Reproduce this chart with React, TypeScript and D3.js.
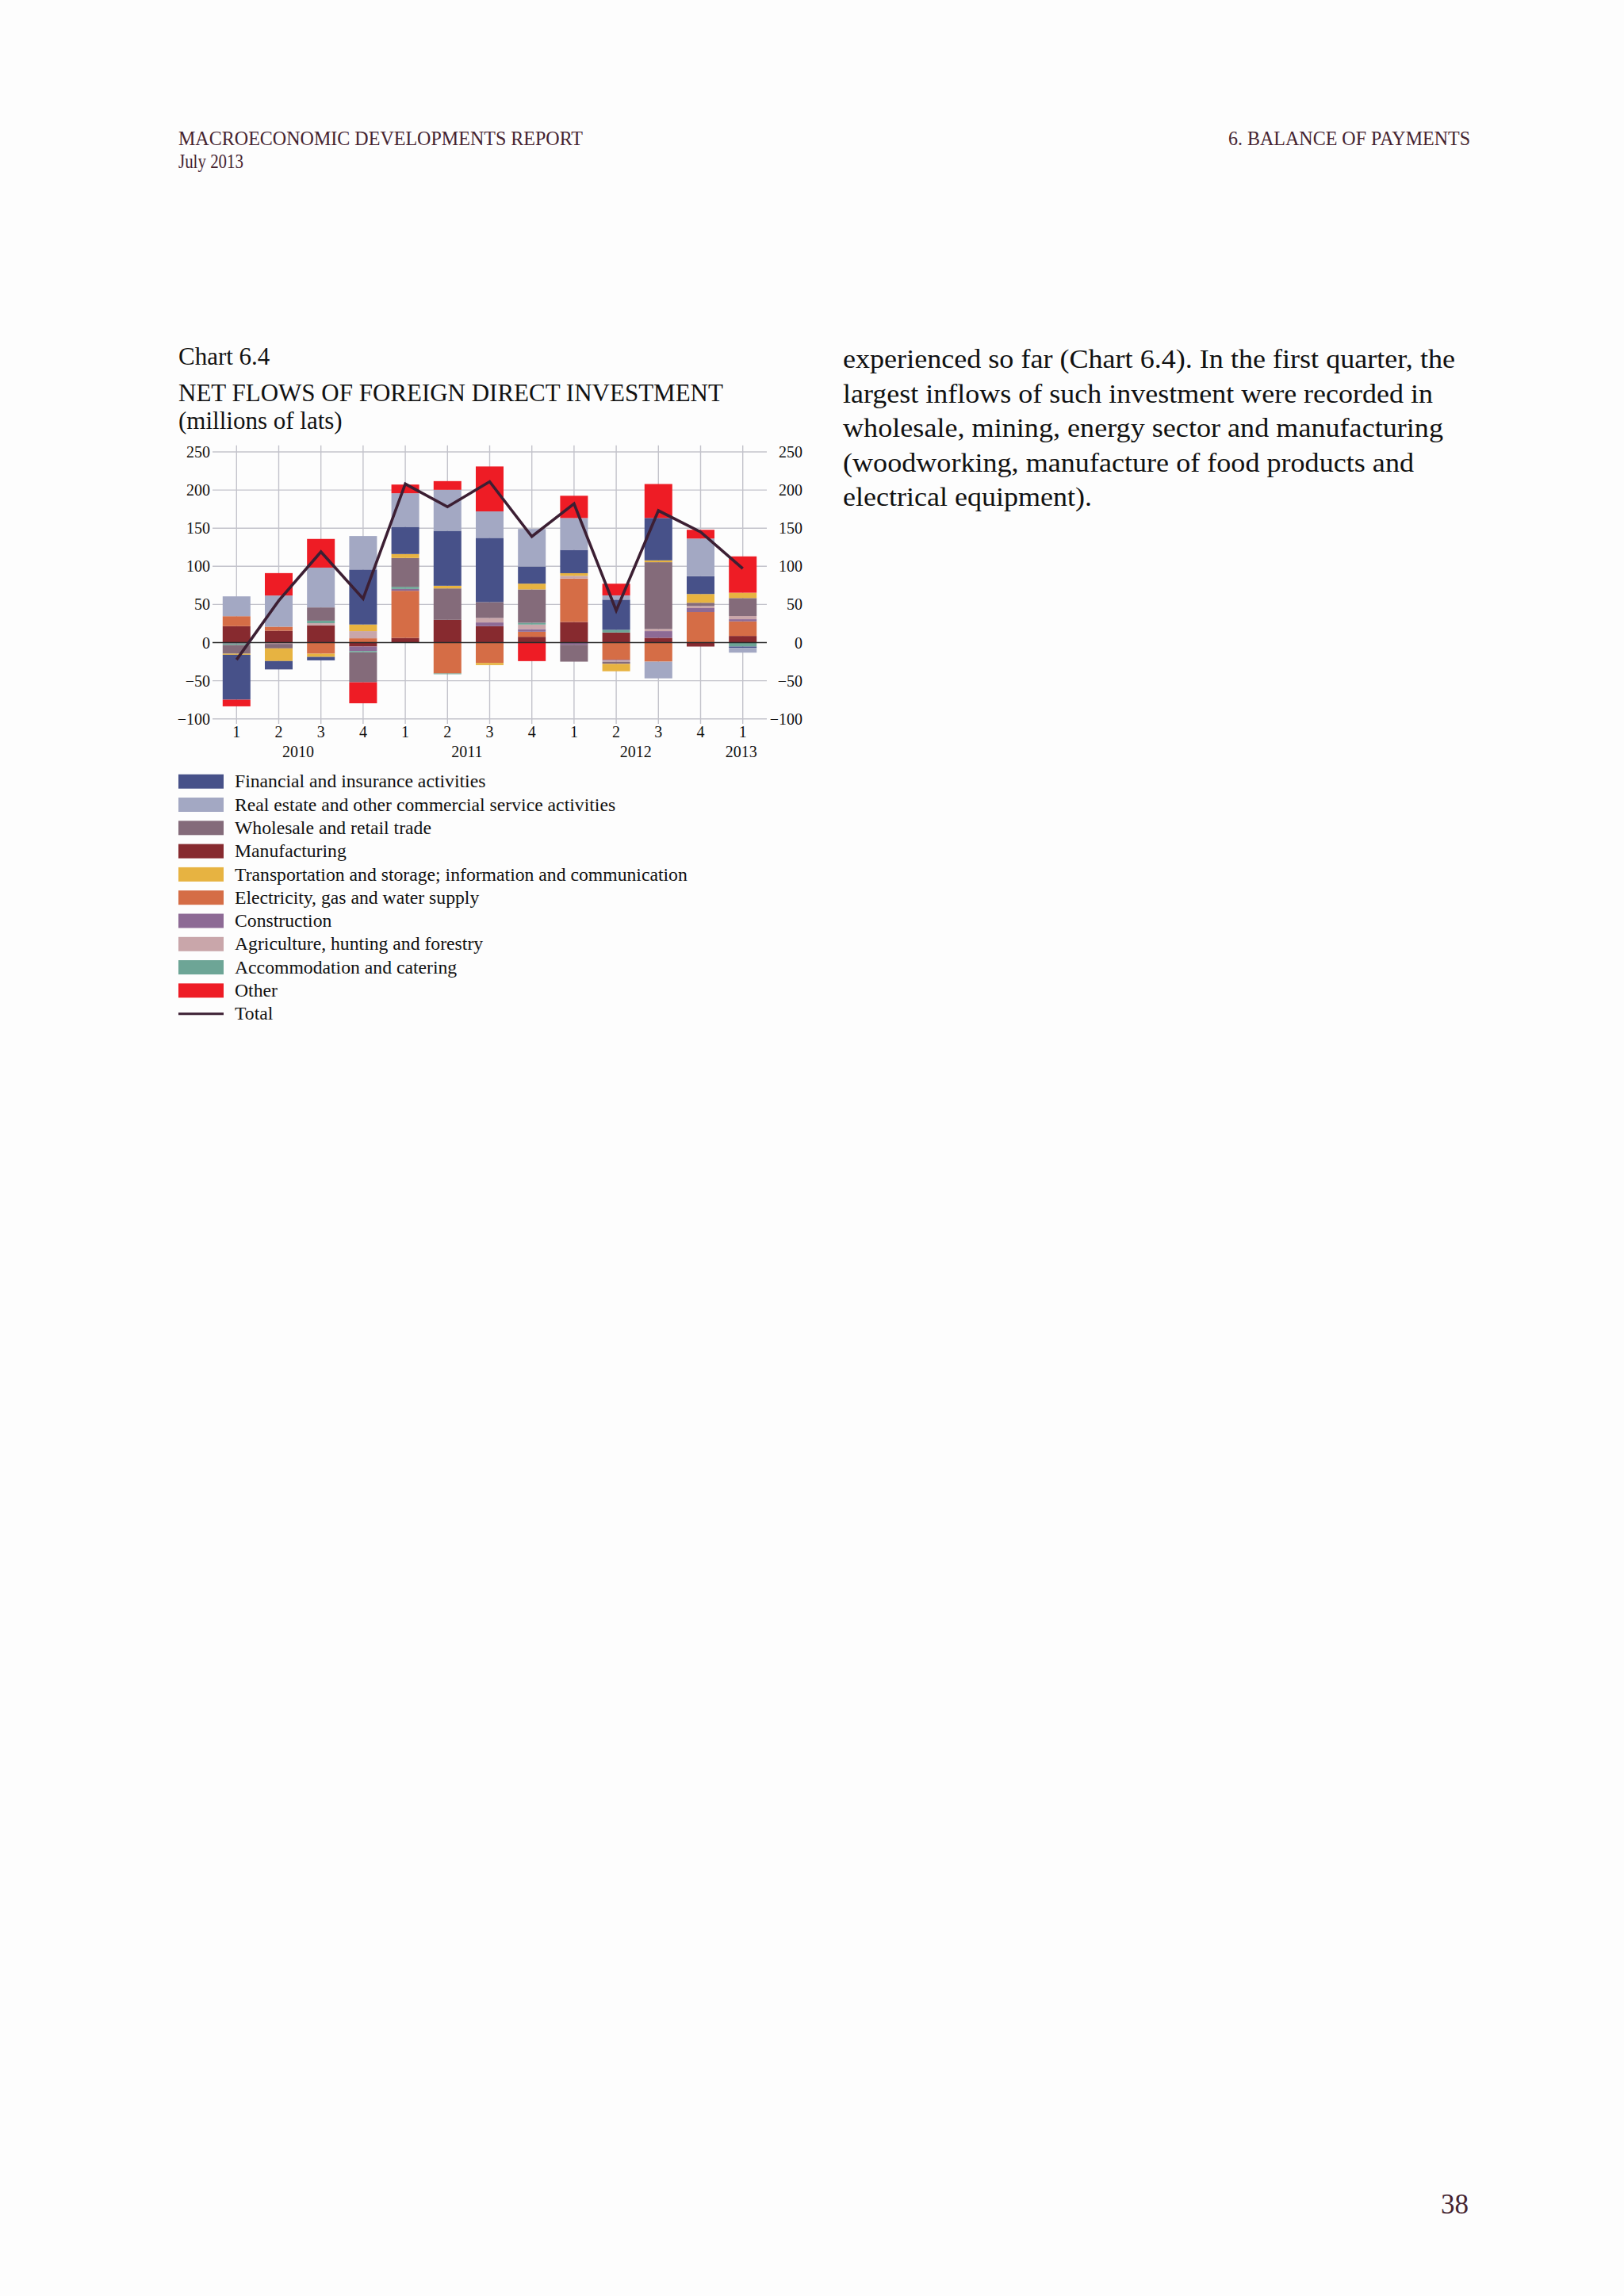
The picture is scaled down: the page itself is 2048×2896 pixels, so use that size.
import React from "react";
import * as d3 from "d3";

const W = 2048;
const H = 2896;

// quarters on the x axis
const years = ["2010", "2010", "2010", "2010", "2011", "2011", "2011", "2011", "2012", "2012", "2012", "2012", "2013"];
const quarters = ["1", "2", "3", "4", "1", "2", "3", "4", "1", "2", "3", "4", "1"];

// millions of lats
const financial = [-58.9, -11, -4.5, 72.1, 35.7, 72.1, 84.2, 22.5, 30.6, 39.6, 55.6, 23.3, -1.7];
const realEstate = [26, 40.9, 52.2, 43.9, 44, 53.7, 34.7, 49.2, 41.7, 5.6, -21.9, 49.4, -6.3];
const wholesale = [-11.4, -5.9, 17.4, -39.3, 37.8, 41.2, 20.8, 43.7, -22.2, -2.8, 87.6, 4.2, 23.6];
const manufacturing = [21.5, 15.6, 22.6, -5.2, 6.2, 29.8, 21.5, 7.6, 27, 13.2, 6.3, -5.2, 8.7];
const transport = [-1.4, -16.6, -4.2, 8.7, 5.2, 3.5, -2.8, 7.6, 3.5, -9.7, 2.4, 11.5, 7];
const electricity = [13.1, 5.2, -14.6, 5.6, 61.7, -40.5, -26.7, 6.6, 57, -22.6, -25, 40, 19.1];
const construction = [-1.2, 0, 0, -5.9, 2.4, 0, 4.9, 3.5, -2.8, -1, 8.7, 5.2, 2.8];
const agriculture = [0, -1.7, 2.8, 9.4, 0, 0, 5.9, 5.9, 3.5, -1.5, 2.8, 2.8, 4.2];
const accommodation = [-2, 0, 3.3, -1.7, 2.8, -1, 0, 2.4, 0, 3.5, 0, 0, -5.2];
const other = [-8.7, 29.4, 37.6, -27.5, 11.4, 11.4, 58.9, -24.3, 29.2, 15.3, 44.5, 11.5, 47.6];
const total = [-22.5, 55, 119, 57.5, 208, 178, 211, 139, 182, 42, 173, 145, 97];

const yTicks = [-100, -50, 0, 50, 100, 150, 200, 250];

const series = [
  { key: "financial", label: "Financial and insurance activities", color: "#475189", values: financial },
  { key: "realEstate", label: "Real estate and other commercial service activities", color: "#a3a8c3", values: realEstate },
  { key: "wholesale", label: "Wholesale and retail trade", color: "#846b7a", values: wholesale },
  { key: "manufacturing", label: "Manufacturing", color: "#872a2f", values: manufacturing },
  { key: "transport", label: "Transportation and storage; information and communication", color: "#e7b341", values: transport },
  { key: "electricity", label: "Electricity, gas and water supply", color: "#d56d46", values: electricity },
  { key: "construction", label: "Construction", color: "#8d6a95", values: construction },
  { key: "agriculture", label: "Agriculture, hunting and forestry", color: "#c9a6aa", values: agriculture },
  { key: "accommodation", label: "Accommodation and catering", color: "#6da596", values: accommodation },
  { key: "other", label: "Other", color: "#ee1c25", values: other },
];

// order in which the segments are piled away from zero
const stackOrder = [
  "manufacturing", "electricity", "construction", "agriculture", "accommodation",
  "wholesale", "transport", "financial", "realEstate", "other",
];

const paragraph = [
  { text: "experienced so far (Chart 6.4). In the first quarter, the", width: 772 },
  { text: "largest inflows of such investment were recorded in", width: 744 },
  { text: "wholesale, mining, energy sector and manufacturing", width: 757 },
  { text: "(woodworking, manufacture of food products and", width: 720 },
  { text: "electrical equipment).", width: 314 },
];

const SERIF = "'Liberation Serif', 'Times New Roman', serif";
const MAROON = "#45232f";

export default function App() {
  const periods = quarters.map((q, i) => `${years[i]}Q${q}`);

  const rows = periods.map((p, i) => {
    const row: Record<string, any> = { period: p };
    series.forEach((s) => (row[s.key] = s.values[i]));
    return row;
  });

  const stacked = d3
    .stack<any>()
    .keys(stackOrder)
    .order(d3.stackOrderNone)
    .offset(d3.stackOffsetDiverging)(rows);

  const colorOf = new Map(series.map((s) => [s.key, s.color]));

  const x = d3
    .scaleBand<string>()
    .domain(periods)
    .range([271.7, 963.3])
    .paddingInner(0.342)
    .paddingOuter(0.171);

  const y = d3.scaleLinear().domain([-100, 250]).range([906.7, 570]);

  const cx = (p: string) => (x(p) || 0) + x.bandwidth() / 2;

  const gridLeft = 268;
  const gridRight = 967;

  const line = d3
    .line<number>()
    .x((_, i) => cx(periods[i]))
    .y((d) => y(d));

  const yearCenters = d3.rollups(
    periods.map((p, i) => ({ p, yr: years[i] })),
    (v) => d3.mean(v, (d) => cx(d.p)) as number,
    (d) => d.yr
  );

  const legendTop = 976.7;
  const legendStep = 29.3;

  return (
    <svg
      width={W}
      height={H}
      viewBox={`0 0 ${W} ${H}`}
      style={{ position: "absolute", left: 0, top: 0, display: "block" }}
      fontFamily={SERIF}
    >
      <rect x={0} y={0} width={W} height={H} fill="#fdfdfd" />

      {/* page header */}
      <g fill={MAROON} fontSize={25}>
        <text x={225} y={183} textLength={510} lengthAdjust="spacingAndGlyphs">
          MACROECONOMIC DEVELOPMENTS REPORT
        </text>
        <text x={225} y={212} textLength={82} lengthAdjust="spacingAndGlyphs">
          July 2013
        </text>
        <text x={1549} y={183} textLength={305} lengthAdjust="spacingAndGlyphs">
          6. BALANCE OF PAYMENTS
        </text>
      </g>

      {/* chart titles */}
      <g fill="#111" fontSize={31}>
        <text x={225} y={460}>Chart 6.4</text>
        <text x={225} y={506}>NET FLOWS OF FOREIGN DIRECT INVESTMENT</text>
        <text x={225} y={540.5}>(millions of lats)</text>
      </g>

      {/* grid */}
      <g stroke="#c3c3cb" strokeWidth={1.4}>
        {yTicks
          .filter((t) => t !== 0)
          .map((t) => (
            <line key={t} x1={gridLeft} x2={gridRight} y1={y(t)} y2={y(t)} />
          ))}
        {periods.map((p) => (
          <line key={p} x1={cx(p)} x2={cx(p)} y1={561.7} y2={913} />
        ))}
      </g>

      {/* bars */}
      {stacked.map((layer) => (
        <g key={layer.key} fill={colorOf.get(layer.key)}>
          {layer.map((d, i) => {
            const y0 = y(d[0]);
            const y1 = y(d[1]);
            const h = Math.abs(y0 - y1);
            if (h < 0.01) return null;
            return (
              <rect
                key={i}
                x={x(periods[i])}
                y={Math.min(y0, y1)}
                width={x.bandwidth()}
                height={h}
              />
            );
          })}
        </g>
      ))}

      <line x1={gridLeft} x2={gridRight} y1={y(0)} y2={y(0)} stroke="#2a2a2a" strokeWidth={1.5} />

      {/* total */}
      <path d={line(total) || ""} fill="none" stroke="#3c1f33" strokeWidth={3.6} strokeLinejoin="miter" />

      {/* y tick labels */}
      <g fontSize={20} fill="#111">
        {yTicks.map((t) => (
          <g key={t}>
            <text x={265} y={y(t)} dy="0.35em" textAnchor="end">
              {d3.format("d")(t)}
            </text>
            <text x={1012} y={y(t)} dy="0.35em" textAnchor="end">
              {d3.format("d")(t)}
            </text>
          </g>
        ))}
      </g>

      {/* x tick labels */}
      <g fontSize={20} fill="#111" textAnchor="middle">
        {periods.map((p, i) => (
          <text key={p} x={cx(p)} y={930}>
            {quarters[i]}
          </text>
        ))}
        {yearCenters.map(([yr, c]) => (
          <text key={yr} x={c - 2} y={955}>
            {yr}
          </text>
        ))}
      </g>

      {/* legend */}
      <g fontSize={23.7} fill="#111">
        {series.map((s, i) => (
          <g key={s.key}>
            <rect x={225} y={legendTop + i * legendStep} width={57} height={18} fill={s.color} />
            <text x={296} y={legendTop + i * legendStep + 16.6}>
              {s.label}
            </text>
          </g>
        ))}
        <line
          x1={225}
          x2={282}
          y1={legendTop + series.length * legendStep + 9}
          y2={legendTop + series.length * legendStep + 9}
          stroke="#3c1f33"
          strokeWidth={3}
        />
        <text x={296} y={legendTop + series.length * legendStep + 16.6}>
          Total
        </text>
      </g>

      {/* body text */}
      <g fontSize={33} fill="#111">
        {paragraph.map((l, i) => (
          <text key={i} x={1063} y={464} dy={i * 43.5} textLength={l.width} lengthAdjust="spacingAndGlyphs">
            {l.text}
          </text>
        ))}
      </g>

      {/* page number */}
      <text x={1852} y={2792} fontSize={35} fill={MAROON} textAnchor="end">
        38
      </text>
    </svg>
  );
}
